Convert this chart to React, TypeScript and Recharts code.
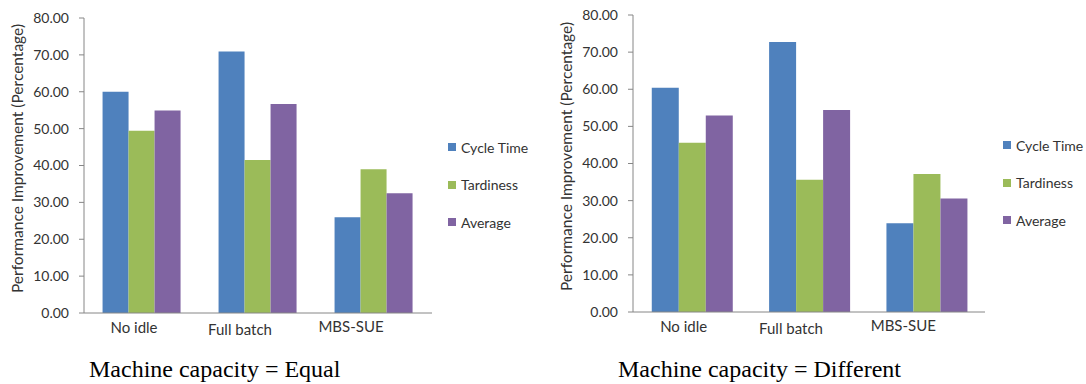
import React from 'react';
import { BarChart, Bar, XAxis, YAxis, Legend } from 'recharts';

const categories = ['No idle', 'Full batch', 'MBS-SUE'];
const seriesNames = ['Cycle Time', 'Tardiness', 'Average'];

const equalCycleTime = [60.0, 70.9, 26.0];
const equalTardiness = [49.4, 41.5, 39.0];
const equalAverage = [54.9, 56.7, 32.5];

const diffCycleTime = [60.4, 72.7, 23.9];
const diffTardiness = [45.6, 35.6, 37.2];
const diffAverage = [52.9, 54.4, 30.6];

const yTicks = [0, 10, 20, 30, 40, 50, 60, 70, 80];

const COLORS = ['#4F81BD', '#9BBB59', '#8064A2'];
const AXIS = '#868686';
const FONT = 'Lato, "Open Sans", sans-serif';
const SERIF = '"Liberation Serif", "Times New Roman", serif';

const buildRows = (a: number[], b: number[], c: number[]) =>
  categories.map((name, i) => ({ name, ct: a[i], td: b[i], av: c[i] }));

// Excel placed the category labels a little left of the bar groups
const LABEL_DX = [-8, -18, -23];
const LABEL_DY = [0, 2, -1];

const CategoryTick = (props: any) => {
  const { x, y, payload, index } = props;
  return (
    <text
      x={x + (LABEL_DX[index] ?? 0)}
      y={y + 12 + (LABEL_DY[index] ?? 0)}
      textAnchor="middle"
      fontFamily={FONT}
      fontSize={15}
      fill="#333"
    >
      {payload.value}
    </text>
  );
};

const YLabel = (props: any) => {
  const { viewBox } = props;
  const cx = viewBox.x + 17;
  const cy = viewBox.y + viewBox.height / 2 - 7;
  return (
    <text
      x={cx}
      y={cy}
      transform={`rotate(-90 ${cx} ${cy})`}
      textAnchor="middle"
      dominantBaseline="central"
      fontFamily={FONT}
      fontSize={15.5}
      fill="#333"
    >
      Performance Improvement (Percentage)
    </text>
  );
};

const LegendBox = (props: any) => {
  const items = [...(props.payload || [])].sort(
    (a: any, b: any) => seriesNames.indexOf(a.value) - seriesNames.indexOf(b.value)
  );
  return (
    <div style={{ position: 'relative', fontFamily: FONT, fontSize: 14, color: '#333' }}>
      {items.map((it: any, i: number) => (
        <div
          key={i}
          style={{ position: 'absolute', top: i * 37.5, left: 0, display: 'flex', alignItems: 'center', height: 16, whiteSpace: 'nowrap' }}
        >
          <span style={{ width: 8, height: 8, background: it.color, display: 'inline-block', marginRight: 5 }} />
          <span>{it.value}</span>
        </div>
      ))}
    </div>
  );
};

interface PanelProps {
  rows: { name: string; ct: number; td: number; av: number }[];
  left: number;
  width: number;
  margin: { top: number; right: number; bottom: number; left: number };
  legendPos: { left: number; top: number };
}

const Panel: React.FC<PanelProps> = ({ rows, left, width, margin, legendPos }) => (
  <div style={{ position: 'absolute', left, top: 0 }}>
    <BarChart width={width} height={345} data={rows} margin={margin} barCategoryGap="16%" barGap={0}>
      <XAxis dataKey="name" axisLine={{ stroke: AXIS }} tickLine={false} tick={<CategoryTick />} height={30} interval={0} />
      <XAxis xAxisId="top" orientation="top" height={0} tick={false} tickLine={false} axisLine={{ stroke: AXIS }} />
      <YAxis
        domain={[0, 80]}
        ticks={yTicks}
        interval={0}
        width={84}
        tickFormatter={(v: number) => v.toFixed(2)}
        axisLine={{ stroke: AXIS }}
        tickLine={{ stroke: AXIS }}
        tickSize={5}
        tickMargin={10}
        tick={{ fontFamily: FONT, fontSize: 14, fill: '#333' }}
        label={<YLabel />}
      />
      <YAxis yAxisId="right" orientation="right" width={0} tick={false} tickLine={false} axisLine={{ stroke: AXIS }} />
      <Legend
        layout="horizontal"
        verticalAlign="middle"
        content={<LegendBox />}
        wrapperStyle={{ left: legendPos.left, top: legendPos.top, width: 100, height: 100 }}
      />
      <Bar dataKey="ct" name={seriesNames[0]} fill={COLORS[0]} isAnimationActive={false} />
      <Bar dataKey="td" name={seriesNames[1]} fill={COLORS[1]} isAnimationActive={false} />
      <Bar dataKey="av" name={seriesNames[2]} fill={COLORS[2]} isAnimationActive={false} />
    </BarChart>
  </div>
);

export default function App() {
  return (
    <div style={{ position: 'absolute', left: 0, top: 0, width: 1086, height: 384, background: '#fff', overflow: 'hidden' }}>
      <Panel
        rows={buildRows(equalCycleTime, equalTardiness, equalAverage)}
        left={0}
        width={545}
        margin={{ top: 18, right: 113, bottom: 2, left: 0 }}
        legendPos={{ left: 448, top: 139 }}
      />
      <Panel
        rows={buildRows(diffCycleTime, diffTardiness, diffAverage)}
        left={549}
        width={537}
        margin={{ top: 15, right: 101, bottom: 3, left: 0 }}
        legendPos={{ left: 454, top: 137 }}
      />
      <div style={{ position: 'absolute', left: 89, top: 356, fontFamily: SERIF, fontSize: 24, whiteSpace: 'nowrap', color: '#000' }}>
        Machine capacity = Equal
      </div>
      <div style={{ position: 'absolute', left: 618, top: 356, fontFamily: SERIF, fontSize: 24, whiteSpace: 'nowrap', color: '#000' }}>
        Machine capacity = Different
      </div>
    </div>
  );
}
